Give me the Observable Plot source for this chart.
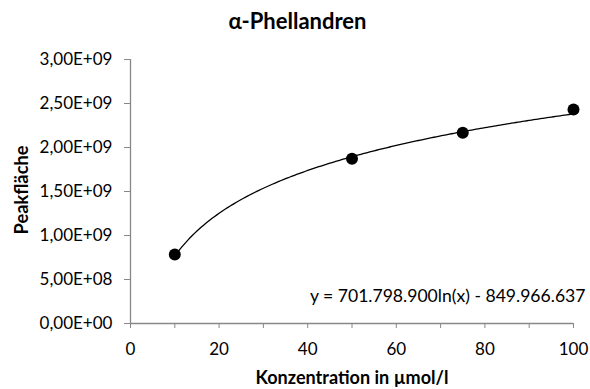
<!DOCTYPE html>
<html><head><meta charset="utf-8">
<script src="https://cdn.jsdelivr.net/npm/d3@7"></script>
<script src="https://cdn.jsdelivr.net/npm/@observablehq/plot@0.6"></script>
<style>body{margin:0;background:#fff;font-family:Lato,"Open Sans",sans-serif}</style>
</head><body><div id="chart"></div>
<script>
const title = "α-Phellandren";
const xLabel = "Konzentration in µmol/l";
const yLabel = "Peakfläche";
const concentrations = [10, 50, 75, 100];
const peakAreas = [7.84e8, 1.872e9, 2.167e9, 2.432e9];
const xTicks = [0, 20, 40, 60, 80, 100];
const xMinorTicks = [10, 30, 50, 70, 90];
const yTicks = [0, 5e8, 1e9, 1.5e9, 2e9, 2.5e9, 3e9];
const trendA = 701798900;
const trendB = -849966637;
const equationLabel = "y = 701.798.900ln(x) - 849.966.637";

const points = concentrations.map((x, i) => ({x, y: peakAreas[i]}));
const trend = d3.range(10, 100.01, 0.5).map(x => ({x, y: trendA * Math.log(x) + trendB}));

function fmtE(d) {
  if (d === 0) return "0,00E+00";
  const e = Math.floor(Math.log10(Math.abs(d)) + 1e-9);
  const m = d / Math.pow(10, e);
  return m.toFixed(2).replace(".", ",") + "E+" + String(e).padStart(2, "0");
}

// choose font sizes so text widths match the reference
const FONT = "Lato";
const ctx = document.createElement("canvas").getContext("2d");
function fit(text, weight, target) {
  ctx.font = `${weight} 100px ${FONT}`;
  return +(100 * target / ctx.measureText(text).width).toFixed(2);
}
const tickSize = fit("3,00E+09", "normal", 73);
const eqSize = fit(equationLabel, "normal", 276);
const titleSize = fit(title, "bold", 138);
const xLabelSize = fit(xLabel, "bold", 193);
const yLabelSize = fit(yLabel, "bold", 89);

const axisColor = "#888888";
const plot = Plot.plot({
  width: 590, height: 389,
  marginLeft: 130, marginRight: 17, marginTop: 59, marginBottom: 66,
  style: {fontFamily: "Lato, 'Open Sans', sans-serif", fontSize: tickSize + "px", color: "#000", background: "#fff"},
  x: {domain: [0, 100]},
  y: {domain: [0, 3e9]},
  marks: [
    Plot.ruleX([0], {stroke: axisColor, strokeWidth: 1.3}),
    Plot.ruleY([0], {stroke: axisColor, strokeWidth: 1.3}),
    Plot.axisX({ticks: xTicks, tickSize: 5, stroke: axisColor, tickFormat: d => String(d), fontSize: tickSize, tickPadding: 14, label: null}),
    Plot.axisX({ticks: xMinorTicks, tickSize: 5, stroke: axisColor, tickFormat: () => "", label: null}),
    Plot.axisY({ticks: yTicks, tickSize: 6, stroke: axisColor, tickFormat: fmtE, fontSize: tickSize, tickPadding: 12, label: null}),
    Plot.line(trend, {x: "x", y: "y", stroke: "#000", strokeWidth: 1.3}),
    Plot.dot(points, {x: "x", y: "y", r: 6, fill: "#000"}),
    Plot.text([equationLabel], {frameAnchor: "bottom-right", textAnchor: "end", lineAnchor: "bottom", dx: 12, dy: -22, fontSize: eqSize, fill: "#000"}),
    Plot.text([title], {frameAnchor: "top-left", textAnchor: "middle", lineAnchor: "bottom", dx: 297 - 130, dy: -31, fontSize: titleSize, fontWeight: "bold", fill: "#000"}),
    Plot.text([xLabel], {frameAnchor: "bottom", textAnchor: "middle", lineAnchor: "bottom", dy: 60, fontSize: xLabelSize, fontWeight: "bold", fill: "#000"}),
    Plot.text([yLabel], {frameAnchor: "left", textAnchor: "middle", lineAnchor: "bottom", dx: -103, dy: -1.5, rotate: -90, fontSize: yLabelSize, fontWeight: "bold", fill: "#000"})
  ]
});
document.getElementById("chart").appendChild(plot);
</script></body></html>
